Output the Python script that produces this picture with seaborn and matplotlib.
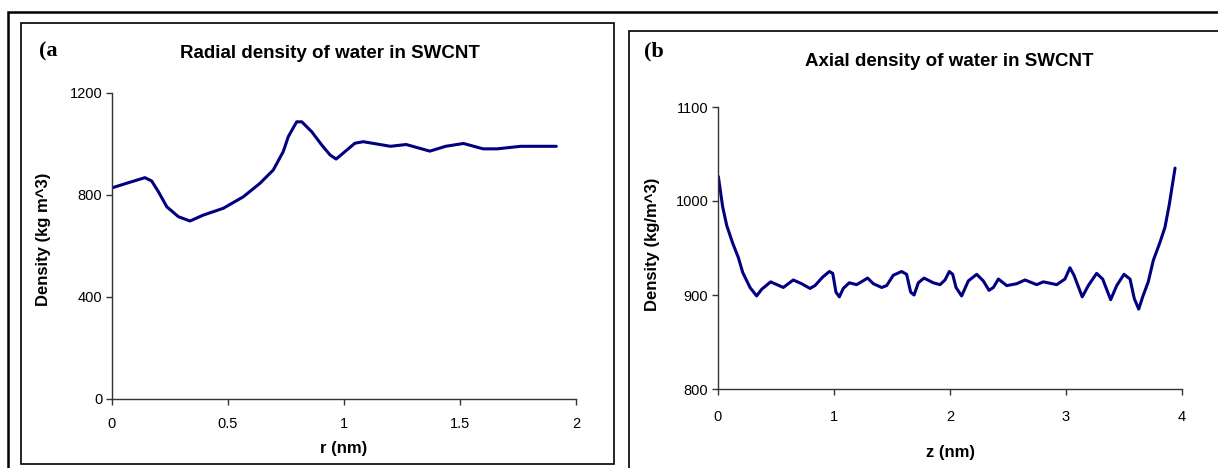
import matplotlib
matplotlib.use("Agg")
import matplotlib.pyplot as plt
import seaborn as sns
import pandas as pd
from matplotlib.patches import Rectangle

# ---- Data ----
radial_r = [0.0, 0.07, 0.142, 0.171, 0.2, 0.236, 0.286, 0.336, 0.393, 0.48, 0.566,
            0.638, 0.695, 0.738, 0.76, 0.796, 0.818, 0.861, 0.904, 0.94, 0.966,
            1.004, 1.047, 1.083, 1.2, 1.268, 1.37, 1.438, 1.515, 1.6, 1.66,
            1.762, 1.915]
radial_density = [828, 848, 868, 855, 813, 754, 715, 698, 721, 748, 793,
                  846, 898, 970, 1029, 1087, 1087, 1048, 996, 957, 941,
                  970, 1003, 1009, 991, 998, 972, 991, 1002, 981, 981,
                  991, 991]

axial_z = [0.003, 0.04, 0.075, 0.127, 0.175, 0.213, 0.276, 0.333, 0.376, 0.454,
           0.563, 0.649, 0.721, 0.793, 0.836, 0.902, 0.96, 0.989, 1.017, 1.046,
           1.08, 1.132, 1.195, 1.29, 1.339, 1.411, 1.454, 1.511, 1.583, 1.626,
           1.661, 1.69, 1.727, 1.776, 1.856, 1.914, 1.957, 1.994, 2.023, 2.052,
           2.1, 2.158, 2.23, 2.287, 2.336, 2.374, 2.417, 2.489, 2.575, 2.647,
           2.747, 2.805, 2.92, 2.991, 3.034, 3.069, 3.14, 3.192, 3.264, 3.316,
           3.385, 3.437, 3.5, 3.552, 3.589, 3.627, 3.661, 3.709, 3.753, 3.81,
           3.853, 3.89, 3.94]
axial_density = [1026, 994, 974, 955, 940, 924, 908, 899, 906, 914,
                 908, 916, 912, 907, 910, 919, 925, 923, 903, 898,
                 907, 913, 911, 918, 912, 908, 910, 921, 925, 922,
                 903, 900, 913, 918, 913, 911, 916, 925, 922, 908,
                 899, 915, 922, 915, 905, 908, 917, 910, 912, 916,
                 911, 914, 911, 917, 929, 921, 898, 910, 923, 917,
                 895, 910, 922, 917, 896, 885, 898, 914, 937, 956,
                 972, 996, 1035]

titles = ["Radial density of water in SWCNT", "Axial density of water in SWCNT"]
panel_tags = ["(a", "(b"]
xlabels = ["r (nm)", "z (nm)"]
ylabels = ["Density (kg m^3)", "Density (kg/m^3)"]
radial_xticks = [0, 0.5, 1, 1.5, 2]
radial_xticklabels = ["0", "0.5", "1", "1.5", "2"]
radial_yticks = [0, 400, 800, 1200]
axial_xticks = [0, 1, 2, 3, 4]
axial_yticks = [800, 900, 1000, 1100]

sns.set_theme(style="white")
plt.rcParams['font.family'] = ['Liberation Sans', 'DejaVu Sans']
plt.rcParams['text.color'] = 'black'
plt.rcParams['axes.labelcolor'] = 'black'

W, H = 1218, 468
fig = plt.figure(figsize=(W / 100, H / 100), dpi=100)

def fx(px):
    return px / W

def fy(py):
    return 1 - py / H

# decorative frames
fig.patches.append(Rectangle((fx(8), -0.1), 2, fy(12) + 0.1, transform=fig.transFigure,
                             fill=False, edgecolor="black", linewidth=1.8, zorder=0))
fig.patches.append(Rectangle((fx(21), fy(463.5)), fx(613.5) - fx(21), fy(23.3) - fy(463.5),
                             transform=fig.transFigure, fill=False, edgecolor="black",
                             linewidth=1.2, zorder=0))
fig.patches.append(Rectangle((fx(628.5), -0.1), 2, fy(31.5) + 0.1, transform=fig.transFigure,
                             fill=False, edgecolor="black", linewidth=1.2, zorder=0))

ax1 = fig.add_axes([fx(112), fy(399), fx(576) - fx(112), fy(93) - fy(399)])
ax2 = fig.add_axes([fx(718), fy(389), fx(1182) - fx(718), fy(107) - fy(389)])

df1 = pd.DataFrame({"r": radial_r, "density": radial_density})
df2 = pd.DataFrame({"z": axial_z, "density": axial_density})

line_color = "#000080"
sns.lineplot(data=df1, x="r", y="density", ax=ax1, color=line_color, linewidth=2.2, sort=False,
             solid_joinstyle="round", solid_capstyle="round")
sns.lineplot(data=df2, x="z", y="density", ax=ax2, color=line_color, linewidth=2.2, sort=False,
             solid_joinstyle="round", solid_capstyle="round")

ax1.set_xlim(0, 2)
ax1.set_ylim(0, 1200)
ax1.set_xticks(radial_xticks)
ax1.set_xticklabels(radial_xticklabels)
ax1.set_yticks(radial_yticks)
ax2.set_xlim(0, 4)
ax2.set_ylim(800, 1100)
ax2.set_xticks(axial_xticks)
ax2.set_yticks(axial_yticks)

for ax in (ax1, ax2):
    ax.patch.set_alpha(0)
    for s in ("top", "right"):
        ax.spines[s].set_visible(False)
    for s in ("left", "bottom"):
        ax.spines[s].set_color("#333333")
        ax.spines[s].set_linewidth(1.0)
    ax.tick_params(axis="both", direction="out", length=4, width=1.0, color="#333333",
                   labelsize=10.5, labelcolor="black", bottom=True, left=True)
    ax.tick_params(axis="y", pad=3)
    ax.set_xlabel("")
    ax.set_ylabel("")
ax1.tick_params(axis="x", pad=9)
ax2.tick_params(axis="x", pad=11)

# axis titles
fig.text(fx(344), fy(448), xlabels[0], ha="center", va="center", fontsize=12, fontweight="bold")
fig.text(fx(950), fy(453), xlabels[1], ha="center", va="center", fontsize=12, fontweight="bold")
fig.text(fx(44), fy(239), ylabels[0], rotation=90, ha="center", va="center",
         fontsize=12, fontweight="bold")
fig.text(fx(652), fy(244), ylabels[1], rotation=90, ha="center", va="center",
         fontsize=12, fontweight="bold")

fig.text(fx(330), fy(53), titles[0], ha="center", va="center", fontsize=13.5, fontweight="bold")
fig.text(fx(949), fy(61), titles[1], ha="center", va="center", fontsize=13.5, fontweight="bold")

fig.text(fx(39), fy(51), panel_tags[0], ha="left", va="center", fontsize=16, fontweight="bold",
         family=["Liberation Serif", "DejaVu Serif"])
fig.text(fx(644), fy(51), panel_tags[1], ha="left", va="center", fontsize=16, fontweight="bold",
         family=["Liberation Serif", "DejaVu Serif"])

fig.savefig("out.png", dpi=100)
